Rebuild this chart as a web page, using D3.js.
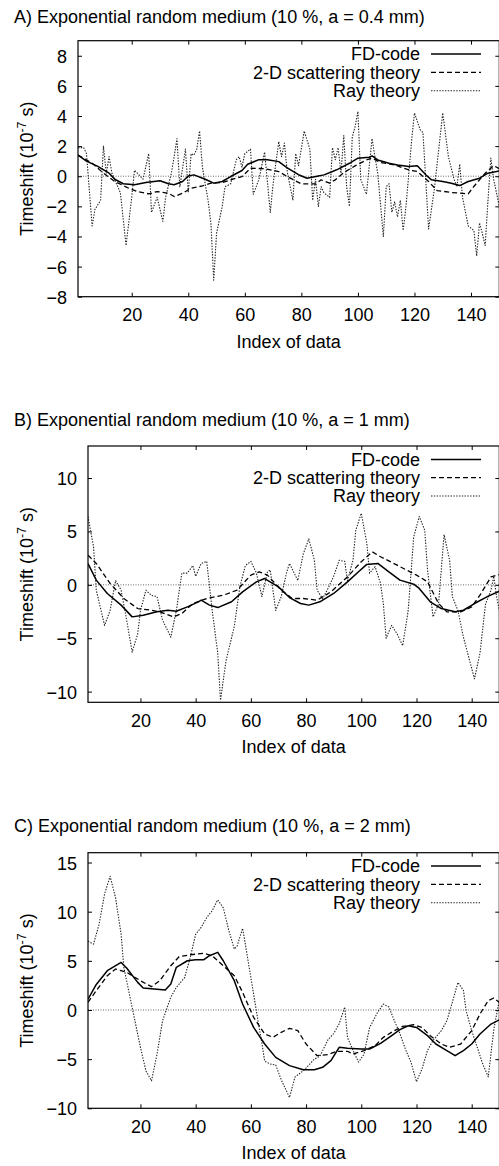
<!DOCTYPE html>
<html><head><meta charset="utf-8">
<script src="https://cdn.jsdelivr.net/npm/d3@7"></script>
<style>
html,body{margin:0;padding:0;background:#fff;}
svg{display:block;}
text{font-family:"Liberation Sans",Arial,sans-serif;fill:#000;}
</style></head>
<body>
<script>
// ---------- data (index of data, timeshift in 1e-7 s) ----------
const xTicks = [20, 40, 60, 80, 100, 120, 140];
const yTicksA = [-8, -6, -4, -2, 0, 2, 4, 6, 8];
const yTicksB = [-10, -5, 0, 5, 10];
const yTicksC = [-10, -5, 0, 5, 10, 15];
const seriesNames = ["FD-code", "2-D scattering theory", "Ray theory"];
const titles = [
  "A) Exponential random medium (10 %, a = 0.4 mm)",
  "B) Exponential random medium (10 %, a = 1 mm)",
  "C) Exponential random medium (10 %, a = 2 mm)"
];

const fdA = [[1,1.4],[4,1.0],[8,0.65],[12,0.2],[14,-0.2],[17,-0.5],[21,-0.57],[25,-0.42],[30,-0.3],[33,-0.5],[35,-0.57],[38,-0.35],[40,0.02],[42,0.09],[46,-0.2],[49,-0.46],[52,-0.35],[55,-0.02],[59,0.38],[61,0.8],[65,1.1],[68,1.1],[72,0.97],[75,0.55],[79,0.1],[82,-0.13],[86,0.02],[88,0.09],[91,0.31],[93,0.47],[97,0.86],[100,1.2],[104,1.26],[105,1.35],[107,1.08],[111,0.86],[114,0.75],[118,0.64],[121,0.69],[124,0.1],[126,-0.24],[130,-0.35],[133,-0.46],[136,-0.62],[139,-0.35],[143,-0.13],[146,0.2],[150,0.35]];
const scA = [[1,1.4],[6,0.87],[10,0.2],[14,-0.35],[19,-0.8],[22,-1.02],[26,-1.17],[29,-1.02],[33,-1.13],[35,-1.35],[38,-1.13],[41,-0.8],[45,-0.64],[48,-0.46],[52,-0.42],[55,-0.24],[59,-0.02],[62,0.53],[67,0.5],[72,0.31],[75,-0.02],[80,-0.51],[85,-0.51],[87,-0.24],[90,-0.46],[92,-0.24],[95,0.24],[99,0.69],[103,1.08],[105,1.2],[108,0.91],[113,0.75],[118,0.42],[121,0.31],[125,-0.35],[128,-0.95],[133,-1.08],[139,-1.17],[141,-0.68],[145,0.2],[148,0.7],[150,0.5]];
const rayA = [[1,1.9],[3,1.9],[4,1.5],[6,-3.3],[7,-2.2],[9,-1.6],[10,2.0],[11,0.2],[12,1.3],[13,0.2],[16,-1.1],[18,-4.6],[20,-1.4],[21,0.4],[23,0.0],[24,-0.2],[26,1.5],[27,-2.4],[29,-1.4],[30,-2.2],[31,-3.0],[32,-1.4],[34,0.2],[35,1.3],[36,2.5],[37,-0.7],[39,1.8],[40,-1.1],[41,1.5],[42,1.4],[43,1.8],[44,3.0],[45,0.6],[47,-1.6],[48,-3.1],[49,-6.9],[50,-3.8],[52,-2.0],[53,-0.7],[55,-0.5],[57,1.1],[58,1.3],[59,0.6],[60,1.5],[62,1.8],[63,-1.2],[65,-0.2],[67,1.6],[69,-2.4],[70,-0.5],[72,2.3],[73,1.3],[74,2.2],[75,0.3],[77,-1.6],[78,1.5],[79,0.7],[81,3.0],[83,1.8],[84,-1.6],[85,-0.2],[86,-2.0],[87,-0.7],[88,-1.1],[90,-1.4],[91,1.9],[92,1.1],[93,1.9],[94,0.2],[95,2.7],[96,-0.7],[97,-2.0],[98,2.6],[99,3.3],[100,4.3],[101,-0.2],[103,-1.2],[105,2.5],[106,1.3],[107,0.2],[109,-4.0],[110,-0.7],[111,-0.5],[112,-2.4],[113,-1.7],[114,-2.7],[115,-1.6],[116,-3.6],[117,-2.0],[119,2.4],[120,4.2],[122,3.1],[123,2.9],[125,-3.5],[127,-0.9],[130,4.2],[132,1.3],[134,-0.2],[135,-0.7],[136,0.8],[137,-1.4],[139,-3.3],[141,-3.6],[142,-5.3],[143,-3.1],[144,-3.8],[145,-4.6],[146,-1.6],[147,1.2],[148,-0.2],[150,-2.0]];

const fdB = [[1,2.0],[4,0.44],[8,-0.81],[13,-1.9],[17,-3.0],[21,-2.84],[26,-2.53],[30,-2.38],[33,-2.47],[37,-2.06],[41,-1.59],[42,-1.44],[45,-1.9],[48,-2.13],[53,-1.59],[57,-0.66],[62,0.28],[65,0.59],[70,-0.19],[74,-1.19],[78,-1.75],[81,-1.9],[85,-1.59],[90,-0.81],[95,0.28],[99,1.22],[102,1.91],[106,2.0],[110,1.22],[114,0.44],[119,0.06],[121,-0.34],[125,-1.59],[129,-2.22],[134,-2.53],[137,-2.38],[141,-1.75],[146,-1.06],[150,-0.6]];
const scB = [[1,2.78],[4,2.0],[9,0.13],[14,-1.28],[19,-2.22],[24,-2.38],[27,-2.53],[32,-3.0],[35,-2.69],[39,-1.75],[44,-1.28],[50,-0.97],[55,-0.5],[60,0.91],[63,1.22],[66,0.91],[71,-0.5],[75,-1.28],[79,-1.28],[84,-1.44],[89,-0.66],[95,0.75],[100,2.16],[104,3.09],[107,2.63],[113,1.84],[120,0.91],[124,0.28],[128,-1.75],[131,-2.53],[136,-2.53],[140,-2.06],[143,-0.97],[147,0.75],[150,0.95]];
const rayB = [[1,6.4],[3,3.6],[4,-0.5],[7,-3.8],[9,-2.4],[11,0.4],[13,-0.5],[15,-3.3],[17,-6.3],[19,-4.6],[20,-2.4],[22,-0.5],[24,-1.0],[26,-1.1],[28,-3.3],[31,-4.9],[33,-2.4],[35,1.1],[37,1.1],[39,1.8],[40,0.8],[42,2.0],[44,2.2],[46,-2.4],[48,-6.4],[49,-10.8],[51,-7.1],[54,-3.9],[56,-0.2],[58,1.8],[60,2.2],[62,1.1],[64,-1.1],[66,1.2],[67,1.4],[69,-2.4],[71,-1.1],[73,1.2],[74,2.0],[77,0.4],[79,2.9],[81,4.3],[83,2.3],[84,-0.5],[86,-1.3],[88,-0.3],[90,0.8],[92,2.3],[94,2.2],[95,0.4],[97,2.3],[98,5.1],[100,6.7],[102,3.9],[103,1.1],[105,1.7],[107,0.1],[108,-1.8],[109,-5.0],[111,-3.8],[113,-4.6],[115,-5.7],[117,-2.4],[119,4.5],[121,6.4],[123,5.1],[124,1.4],[126,-3.0],[128,-1.8],[130,4.7],[132,2.3],[133,-1.1],[135,-2.4],[137,-4.9],[141,-8.8],[143,-6.4],[145,-1.8],[147,-0.5],[148,0.8],[149,-1.1],[150,-2.4]];

const fdC = [[1,1.1],[4,2.6],[8,4.0],[13,4.84],[15,4.27],[19,2.81],[21,2.24],[25,2.13],[29,2.03],[31,2.64],[33,4.34],[37,5.01],[40,5.12],[43,5.12],[45,5.52],[48,5.86],[50,5.01],[54,2.98],[57,0.61],[61,-1.77],[65,-3.46],[69,-4.82],[74,-5.66],[79,-6.07],[83,-6.07],[86,-5.83],[89,-5.15],[92,-3.8],[95,-3.9],[100,-3.97],[103,-3.97],[107,-3.39],[111,-2.61],[114,-2.0],[117,-1.6],[120,-1.77],[124,-2.61],[127,-3.46],[131,-4.14],[134,-4.65],[137,-4.14],[140,-3.46],[143,-2.44],[147,-1.43],[150,-1.0]];
const scC = [[1,0.78],[4,1.97],[8,3.49],[11,4.17],[15,3.83],[20,2.98],[24,2.37],[27,2.98],[31,4.5],[34,5.42],[38,5.62],[43,5.76],[46,5.52],[50,4.5],[54,3.49],[57,1.8],[61,-0.75],[65,-2.44],[68,-2.78],[71,-2.27],[74,-1.87],[77,-2.1],[80,-3.46],[84,-4.65],[88,-4.54],[91,-4.2],[95,-4.2],[97,-4.48],[101,-4.14],[105,-3.63],[108,-2.78],[112,-2.1],[115,-1.66],[119,-1.5],[122,-1.77],[125,-2.61],[129,-3.46],[132,-3.8],[136,-3.46],[140,-2.1],[143,-0.41],[146,0.95],[148,1.22],[150,0.78]];
const rayC = [[1,7.0],[3,6.7],[5,8.7],[7,11.8],[9,13.6],[11,11.4],[13,7.7],[14,4.3],[16,1.6],[18,-1.1],[20,-3.8],[22,-6.2],[24,-7.2],[26,-4.5],[28,-1.1],[31,1.3],[33,2.3],[36,3.3],[38,5.3],[40,7.7],[42,8.4],[44,9.4],[46,10.1],[48,11.2],[50,10.4],[52,8.1],[54,6.2],[55,6.5],[57,8.3],[58,6.7],[60,3.3],[62,-0.1],[64,-3.4],[65,-5.2],[67,-5.5],[69,-5.6],[71,-7.1],[74,-8.9],[76,-6.8],[78,-6.4],[80,-5.9],[83,-5.0],[85,-4.7],[88,-3.0],[90,-2.4],[92,-1.4],[94,0.3],[95,-2.8],[97,-4.1],[99,-5.3],[101,-4.5],[103,-1.8],[106,-0.2],[108,0.6],[110,0.3],[112,-1.1],[114,-2.4],[116,-4.0],[118,-5.3],[120,-7.3],[122,-6.0],[124,-4.1],[126,-3.1],[129,-2.1],[131,-1.1],[133,0.8],[135,2.8],[137,2.0],[138,-0.1],[140,-2.1],[142,-3.8],[144,-5.5],[146,-6.8],[148,-2.0],[150,1.0]];

// ---------- layout ----------
const W = 499, H = 1166;
const FONT = 18;
const panels = [
  {title: titles[0], titleY: 23, left: 78, top: 40.7, bottom: 296.7, yDom: [-8, 9], yTicks: yTicksA, data: [fdA, scA, rayA]},
  {title: titles[1], titleY: 426, left: 88, top: 446, bottom: 702.3, yDom: [-11, 13], yTicks: yTicksB, data: [fdB, scB, rayB]},
  {title: titles[2], titleY: 832, left: 88, top: 852.7, bottom: 1108.3, yDom: [-10, 16], yTicks: yTicksC, data: [fdC, scC, rayC]}
];
const RIGHT = 499.3;
const styles = [
  {w: 1.5, dash: null, color: "#000"},
  {w: 1.3, dash: "5,3", color: "#000"},
  {w: 1.1, dash: "1.4,1.4", color: "#222"}
];

const svg = d3.select("body").append("svg").attr("width", W).attr("height", H);

panels.forEach((p, pi) => {
  const x = d3.scaleLinear().domain([1, 150]).range([p.left, RIGHT]);
  const y = d3.scaleLinear().domain(p.yDom).range([p.bottom, p.top]);
  const g = svg.append("g");

  svg.append("text").attr("x", 14).attr("y", p.titleY).attr("font-size", FONT).text(p.title);

  const clipId = "clip" + pi;
  svg.append("clipPath").attr("id", clipId).append("rect")
    .attr("x", p.left).attr("y", p.top).attr("width", RIGHT - p.left).attr("height", p.bottom - p.top);

  // zero line
  g.append("line").attr("x1", x(1)).attr("x2", x(150)).attr("y1", y(0)).attr("y2", y(0))
    .attr("stroke", "#444").attr("stroke-width", 0.8).attr("stroke-dasharray", "1,1.5");

  // axes
  const styleAxis = sel => {
    sel.select(".domain").remove();
    sel.selectAll("line").attr("stroke", "#000").attr("stroke-width", 1);
    sel.selectAll("text").attr("font-size", FONT).attr("font-family", '"Liberation Sans",Arial,sans-serif');
    sel.attr("font-size", FONT);
  };
  g.append("g").attr("transform", `translate(0,${p.bottom})`)
    .call(d3.axisBottom(x).tickValues(xTicks).tickSize(-4).tickPadding(12)).call(styleAxis);
  g.append("g").attr("transform", `translate(0,${p.top})`)
    .call(d3.axisTop(x).tickValues(xTicks).tickSize(-4).tickFormat("")).call(styleAxis);
  const ly = g.append("g").attr("transform", `translate(${p.left},0)`)
    .call(d3.axisLeft(y).tickValues(p.yTicks).tickSize(-4).tickPadding(11)).call(styleAxis);
  ly.selectAll("text").attr("dy", "0.36em");
  g.append("g").attr("transform", `translate(${RIGHT},0)`)
    .call(d3.axisRight(y).tickValues(p.yTicks).tickSize(-4).tickFormat("")).call(styleAxis);

  // series
  const line = d3.line().x(d => x(d[0])).y(d => y(d[1]));
  const lg = g.append("g").attr("clip-path", `url(#${clipId})`);
  [2, 1, 0].forEach(si => {
    const s = styles[si];
    lg.append("path").datum(p.data[si]).attr("d", line)
      .attr("fill", "none").attr("stroke", s.color).attr("stroke-width", s.w)
      .attr("stroke-dasharray", s.dash).attr("stroke-linejoin", "round");
  });

  // frame
  g.append("rect").attr("x", p.left).attr("y", p.top).attr("width", RIGHT - p.left).attr("height", p.bottom - p.top)
    .attr("fill", "none").attr("stroke", "#000").attr("stroke-width", 1.2);

  // legend
  seriesNames.forEach((name, si) => {
    const cy = p.top + 13.4 + si * 18.3;
    const s = styles[si];
    g.append("text").attr("x", 420).attr("y", cy + 6.3).attr("text-anchor", "end").attr("font-size", FONT).text(name);
    g.append("line").attr("x1", 431).attr("x2", 481).attr("y1", cy).attr("y2", cy)
      .attr("stroke", s.color).attr("stroke-width", s.w).attr("stroke-dasharray", s.dash);
  });

  // axis labels
  g.append("text").attr("x", (p.left + RIGHT) / 2).attr("y", p.bottom + 51)
    .attr("text-anchor", "middle").attr("font-size", FONT).text("Index of data");
  const yl = g.append("text").attr("transform", `translate(33,${(p.top + p.bottom) / 2}) rotate(-90)`)
    .attr("text-anchor", "middle").attr("font-size", FONT);
  yl.append("tspan").text("Timeshift (10");
  yl.append("tspan").attr("dy", -7).attr("font-size", 12.5).text("-7");
  yl.append("tspan").attr("dy", 7).text(" s)");
});
</script>
</body></html>
